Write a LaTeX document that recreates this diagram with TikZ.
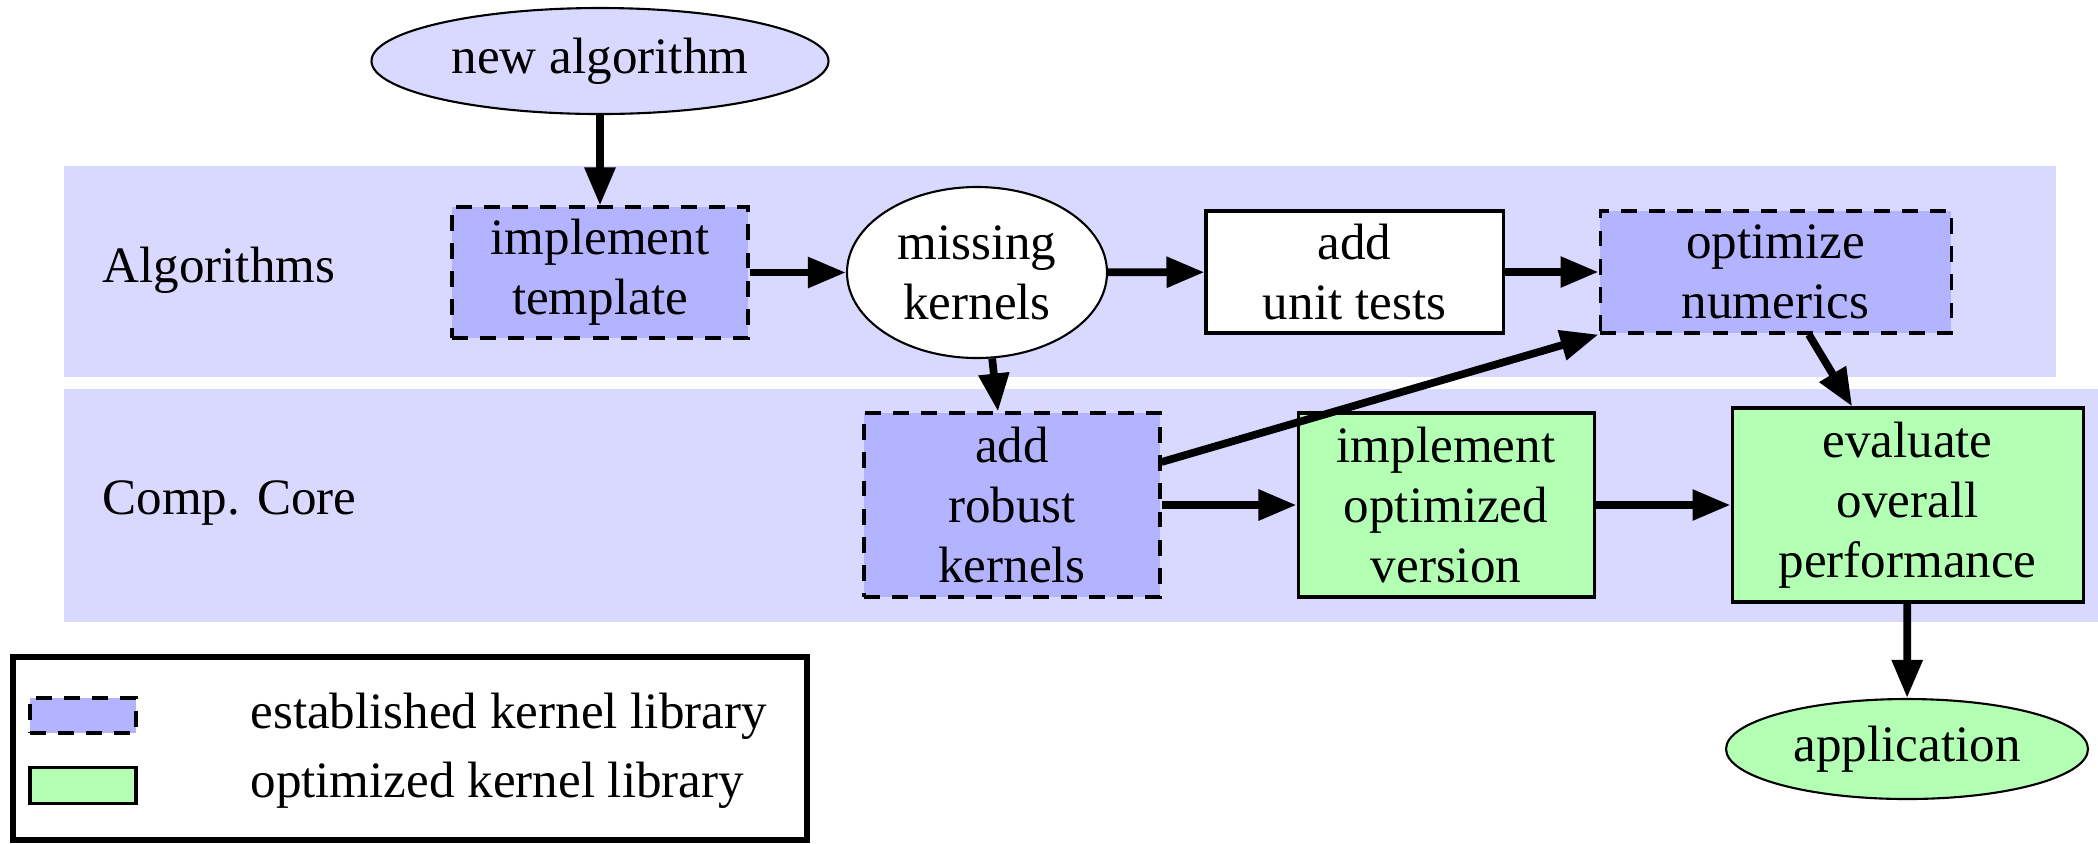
\documentclass[tikz,border=0pt]{standalone}
\usepackage{fontspec}
\setmainfont{Liberation Serif}
\usetikzlibrary{arrows.meta,shapes.geometric}
\definecolor{bandc}{RGB}{217,217,255}
\definecolor{bluec}{RGB}{179,179,255}
\definecolor{greenc}{RGB}{179,255,179}
\begin{document}
\begin{tikzpicture}[x=0.015cm,y=-0.015cm,
  every node/.style={font=\fontsize{21.8pt}{25.6pt}\selectfont, align=center, inner sep=0pt},
  sz/.style 2 args={minimum width=#1*0.015cm, minimum height=#2*0.015cm},
  estbox/.style={rectangle, draw=black, fill=bluec, line width=1.3pt, dash pattern=on 6.8pt off 5.2pt},
  optbox/.style={rectangle, draw=black, fill=greenc, line width=1.3pt},
  plainbox/.style={rectangle, draw=black, fill=white, line width=1.3pt},
  ell/.style={ellipse, draw=black, line width=0.9pt},
  arr/.style={line width=3.3pt, -{Triangle[length=0.57cm,width=0.44cm]}}]

\useasboundingbox (0,0) rectangle (2098,843);
\fill[bandc] (64,166) rectangle (2056,377);
\fill[bandc] (64,389) rectangle (2098,622);

\node[anchor=west] (lalg) at (102,270) {Algorithms};
\node[anchor=west] (lcore) at (102,503) {Comp. Core};

\node[ell, fill=bandc, sz={457}{106}] (newalg) at (600,61) {new algorithm};
\node[estbox, sz={296}{131}] (impl) at (600,272.5) {implement\\template};
\node[ell, fill=white, sz={260}{171}] (missing) at (977,272.5) {missing\\kernels};
\node[plainbox, sz={297}{122}] (unit) at (1354.5,272) {add\\unit tests};
\node[estbox, sz={351}{122}] (optim) at (1775.5,272) {optimize\\numerics};
\node[estbox, sz={296}{184}] (robust) at (1012,505) {add\\robust\\kernels};
\node[optbox, sz={296}{184}] (implopt) at (1446,505) {implement\\optimized\\version};
\node[optbox, sz={351}{194}] (eval) at (1907.5,505) {evaluate\\overall\\performance};
\node[ell, fill=greenc, sz={362}{100}] (app) at (1907,749) {application};

\draw[arr] (newalg) -- (impl);
\draw[arr] (impl) -- (missing);
\draw[arr] (missing) -- (unit);
\draw[arr] (unit) -- (optim);
\draw[arr] (missing.280) -- ([xshift=-0.21cm]robust.north);
\draw[arr] ([yshift=0.645cm]robust.east) -- (optim.south west);
\draw[arr] (robust) -- (implopt);
\draw[arr] (implopt) -- (eval);
\draw[arr] ([xshift=0.5cm]optim.south) -- ([xshift=-0.83cm]eval.north);
\draw[arr] (eval) -- (app);

\draw[line width=2.6pt, fill=white] (13,657) rectangle (807,840);
\node[estbox, sz={106}{35}] (lg1) at (83,715.5) {};
\node[optbox, sz={106}{36}] (lg2) at (83,785) {};
\node[anchor=base west] (lt1) at (250,728) {established kernel library};
\node[anchor=base west] (lt2) at (250,797) {optimized kernel library};
\end{tikzpicture}
\end{document}
